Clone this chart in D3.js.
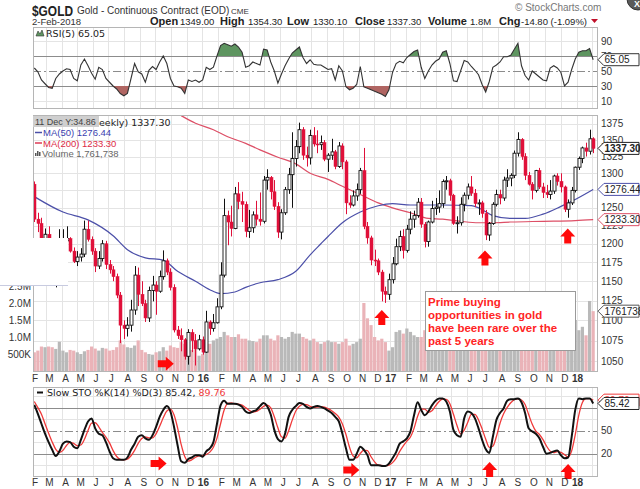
<!DOCTYPE html>
<html><head><meta charset="utf-8">
<script src="https://cdn.jsdelivr.net/npm/d3@7"></script>
<style>
body{margin:0;background:#fff}
svg{display:block}
text{font-family:"Liberation Sans",Arial,sans-serif}
.dv{font-family:"DejaVu Sans",Verdana,sans-serif}
</style>
</head><body><svg id="c" width="640" height="489"></svg>
<script>
// ---------- DATA (weekly, first week ending 2015-02-06) ----------
const firstWeek = "2015-02-06";
const opens = [1284,1234,1228,1205,1213,1167,1152,1184,1199,1204,1207,1190,1176,1182,1186,1220,1206,1190,1170,1180,
1200,1172,1165,1156,1132,1094,1090,1094,1113,1158,1133,1121,1103,1138,1145,1137,1156,1177,1162,1142,
1088,1081,1076,1056,1085,1075,1065,1076,1061,1098,1090,1097,1117,1158,1239,1230,1221,1270,1259,1255,
1217,1222,1240,1234,1231,1290,1294,1273,1252,1216,1243,1276,1298,1322,1340,1366,1327,1323,1357,1344,
1343,1346,1321,1327,1332,1310,1341,1317,1257,1254,1267,1276,1304,1224,1208,1178,1177,1162,1137,1133,
1152,1173,1196,1210,1191,1220,1234,1239,1258,1227,1203,1230,1249,1251,1256,1288,1289,1268,1228,1229,
1255,1268,1280,1271,1256,1257,1242,1212,1228,1255,1269,1264,1290,1293,1297,1330,1351,1325,1297,1284,
1275,1304,1280,1272,1269,1274,1296,1288,1280,1248,1257,1275,1309,1322,1338,1333,1352];
const highs = [1288,1243,1236,1221,1224,1175,1187,1220,1220,1224,1209,1195,1190,1194,1232,1232,1210,1194,1190,1205,
1204,1178,1170,1160,1136,1100,1104,1126,1170,1168,1150,1126,1143,1157,1150,1164,1191,1180,1167,1146,
1093,1090,1078,1089,1089,1083,1082,1080,1112,1100,1108,1128,1175,1263,1246,1253,1280,1287,1273,1259,
1247,1245,1260,1272,1296,1306,1296,1290,1258,1248,1280,1308,1362,1350,1377,1370,1340,1366,1370,1365,
1357,1350,1330,1352,1335,1347,1345,1320,1268,1275,1285,1308,1338,1230,1211,1192,1180,1165,1143,1160,
1182,1207,1218,1220,1226,1245,1246,1264,1264,1230,1232,1260,1264,1275,1291,1296,1292,1270,1238,1265,
1272,1285,1296,1277,1262,1260,1247,1230,1258,1276,1276,1295,1306,1300,1334,1362,1353,1330,1302,1287,
1305,1308,1286,1283,1290,1298,1300,1300,1282,1262,1280,1310,1325,1340,1346,1366,1354.3];
const lows = [1230,1216,1196,1197,1164,1150,1142,1182,1178,1192,1188,1174,1170,1176,1182,1203,1185,1162,1166,1176,
1166,1160,1150,1128,1072,1077,1080,1086,1107,1118,1118,1098,1098,1124,1107,1135,1152,1158,1138,1085,
1077,1062,1052,1046,1061,1045,1063,1058,1060,1082,1086,1096,1114,1155,1198,1210,1220,1248,1230,1209,
1208,1215,1225,1225,1228,1276,1262,1247,1208,1206,1240,1270,1250,1310,1330,1320,1310,1313,1340,1330,
1335,1318,1302,1320,1306,1308,1306,1241,1250,1252,1260,1270,1220,1200,1171,1170,1158,1124,1122,1126,
1147,1171,1190,1180,1188,1213,1222,1236,1222,1195,1196,1228,1240,1243,1250,1276,1260,1226,1214,1225,
1245,1262,1267,1251,1240,1236,1205,1204,1226,1252,1255,1260,1280,1281,1293,1325,1320,1290,1282,1262,
1272,1277,1264,1264,1262,1270,1282,1272,1244,1236,1254,1272,1305,1315,1325,1328,1330.1];
const closes = [1234,1228,1205,1213,1167,1152,1184,1199,1204,1207,1190,1176,1182,1186,1220,1206,1190,1170,1180,1200,
1172,1165,1156,1132,1094,1090,1094,1113,1158,1133,1121,1103,1138,1145,1137,1156,1177,1162,1142,1088,
1081,1076,1056,1085,1075,1065,1076,1061,1098,1090,1097,1117,1158,1239,1230,1221,1270,1259,1255,1217,
1222,1240,1234,1231,1290,1294,1273,1252,1216,1243,1276,1298,1322,1340,1366,1327,1323,1357,1344,1343,
1346,1321,1327,1332,1310,1341,1317,1257,1254,1267,1276,1304,1224,1208,1178,1177,1162,1137,1133,1152,
1173,1196,1210,1191,1220,1234,1239,1258,1227,1203,1230,1249,1251,1256,1288,1289,1268,1228,1229,1255,
1268,1280,1271,1256,1257,1242,1212,1228,1255,1269,1264,1290,1293,1297,1330,1351,1325,1297,1284,1275,
1304,1280,1272,1269,1274,1296,1288,1280,1248,1257,1275,1309,1322,1338,1333,1352,1337.3];
const volumes = [0.55,0.6,0.72,0.7,0.72,0.7,0.65,0.86,0.6,0.55,0.62,0.6,0.55,0.5,0.58,0.62,0.72,0.66,0.6,0.68,
0.66,0.6,0.62,0.7,0.9,0.78,0.7,0.68,0.75,0.9,0.62,0.55,0.5,0.48,0.55,0.58,0.7,0.6,0.75,0.7,
0.68,0.85,0.8,0.7,0.62,0.65,0.45,0.5,0.85,0.8,0.9,0.95,1.0,1.15,1.05,1.0,1.0,1.08,0.95,0.95,
0.9,0.88,0.85,0.95,1.05,1.05,0.95,0.9,1.05,1.0,0.95,1.0,1.15,1.1,1.1,1.0,0.95,0.9,0.95,0.85,
0.8,0.85,0.9,0.85,0.85,0.8,0.85,0.95,0.75,0.8,0.85,0.95,2.0,1.55,1.35,1.0,0.9,0.95,0.85,0.6,
0.7,1.15,1.2,1.1,1.25,1.15,1.05,1.0,1.0,1.2,0.95,0.9,0.85,0.95,1.0,0.9,0.85,1.0,0.9,0.95,
1.0,0.9,0.95,0.85,0.8,0.85,0.95,0.9,1.05,1.0,0.95,1.1,1.05,1.05,1.25,1.3,1.0,0.95,0.85,0.9,
0.85,0.9,0.8,0.85,0.9,0.85,0.8,0.75,0.9,0.85,1.4,1.5,1.2,1.3,1.05,2.06,1.76];
const rsi = [54,49,38,33,28,27,40,46,50,53,52,40,37,58,66,57,47,39,55,52,
40,35,30,26,20,17,20,40,60,49,46,35,51,56,52,62,70,60,40,30,
29,27,20,38,36,38,35,38,55,52,55,70,84,87,85,83,86,82,75,55,
57,62,60,58,79,78,62,50,34,46,57,66,74,78,82,68,60,65,59,58,
58,55,52,53,38,57,50,29,25,27,32,56,29,27,25,23,21,19,16,25,
48,60,63,61,68,72,76,78,55,40,50,58,63,66,75,77,60,37,36,50,
64,62,56,51,45,32,22,36,55,58,62,69,69,71,79,87,57,44,38,50,
46,42,38,37,54,57,54,48,30,35,52,66,75,77,77,80,65.05];
const stoK = [83.5,72,59,46,35,25,17,23,33,36,35,29,27,38,51,62,66,53,46,44,
35,23,14,12,12,12,15,25,33,42,44,40,38,44,55,68,77,82,75,55,
31,10,8,13,15,18,18,16,23,27,35,59,83,89,85,85,85,84,81,75,
73,75,77,82,86,82,71,51,39,36,46,68,77,82,86,85,81,79,81,82,
81,79,76,73,68,62,46,27,12,12,20,29,25,18,5,5,5,4,4,7,
14,22,33,36,40,49,70,87,77,70,75,83,89,92,92,88,75,51,44,42,
66,75,73,66,53,38,26,21,42,64,73,79,89,91,91,92,87,73,53,49,
46,40,29,20,21,23,24,18,14,15,42,77,92,91,92,92,85.42];
const stoD = [88,80,71.5,59,46.7,35.3,25.7,21.7,24.3,30.7,34.7,33.3,30.3,31.3,38.7,50.3,59.7,60.3,55,47.7,
41.7,34,24,16.3,12.7,12,13,17.3,24.3,33.3,39.7,42,40.7,40.7,45.7,55.7,66.7,75.7,78,70.7,
53.7,32,16.3,10.3,12,15.3,17,17.3,19,22,28.3,40.3,59,77,85.7,86.3,85,84.7,83.3,80,
76.3,74.3,75,78,81.7,83.3,79.7,68,53.7,42,40.3,50,63.7,75.7,81.7,84.3,84,81.7,80.3,80.7,
81.3,80.7,78.7,76,72.3,67.7,58.7,45,28.3,17,14.7,20.3,24.7,24,16,9.3,5,4.7,4.3,5,
8.3,14.3,23,30.3,36.3,41.7,53,68.7,78,78,74,76,82.3,88,91,90.7,85,71.3,56.7,45.7,
50.7,61,71.3,71.3,64,52.3,39,28.3,29.7,42.3,59.7,72,80.3,86.3,90.3,91.3,90,84,71,58.3,
49.3,45,38.3,29.7,23.3,21.3,22.7,21.7,18.7,15.7,23.7,44.7,70.3,86.7,91.7,91.7,89.76];
// moving averages (week index, value)
const ma50Week = [0,8,15,22,26,31,36,40,45,49,52,56,59,63,68,73,77,80,82,86,91,96,100,105,114,122,124,128,133,137,142,147,151,156];
const ma50Val  = [1266,1244,1233,1211,1192,1181,1178,1163,1150,1139,1134,1136,1142,1148,1152,1163,1185,1200,1210,1229,1244,1253,1256,1254,1254,1253,1250,1239,1235,1235,1241,1252,1262,1276.44];
const ma200Week = [41,45,50,54,59,63,68,73,77,82,86,91,96,100,105,110,114,119,124,128,133,142,151,156];
const ma200Val  = [1388,1376,1366,1355,1345,1335,1324,1314,1300,1291,1281,1269,1257,1250,1243,1235,1234,1231,1229,1229,1230,1231,1232,1233.3];
// tick labels
const priceTicks = [1050,1075,1100,1125,1150,1175,1200,1225,1250,1300,1325,1350,1375];
const volTicks = [0.5,1.0,1.5,2.0,2.5];
const volTickLabels = ["500K","1.0M","1.5M","2.0M","2.5M"];
const rsiTicks = [10,30,50,70,90];
const stoTicks = [20,50];
// red arrow annotations (week index, value, direction)
const mainArrowWeek = [36.7,97.0,125.8,148.9];
const mainArrowVal  = [1047,1113,1191,1221];
const mainArrowDir  = ["right","up","up","up"];
const stoArrowWeek = [34.7,88.5,127.1,149.0];
const stoArrowVal  = [7.2,-1.3,9.1,6.5];
const stoArrowDir  = ["right","right","up","up"];
const noteLines = ["Prime buying","opportunities in gold","have been rare over the","past 5 years"];

// ---------- SETUP ----------
const svg = d3.select("#c");
svg.append("rect").attr("width",640).attr("height",489).attr("fill","#fff");
const X0 = 33, X1 = 597;
const P = {rsi:[27,108], main:[115,371], sto:[387,476]};
const x = d3.scaleTime().domain([new Date(2015,1,4), new Date(2018,1,10)]).range([X0,X1]);
const start = new Date(firstWeek+"T12:00:00");
const wd = i => new Date(start.getTime() + i*7*864e5);
const dates = closes.map((c,i)=>wd(i));
const yP = d3.scaleLog().domain([1038.5,1389]).range([371,115]);
const yV = d3.scaleLinear().domain([0,7.53]).range([371,115]);
const yR = d3.scaleLinear().domain([0,100]).range([108.5,33.5]);
const yS = d3.scaleLinear().domain([0,100]).range([469,392.3]);
const months = d3.timeMonth.range(new Date(2015,1,1), new Date(2018,2,1));
const defs = svg.append("defs");
function clip(id,y0,y1){defs.append("clipPath").attr("id",id).append("rect").attr("x",X0).attr("y",y0).attr("width",X1-X0).attr("height",y1-y0);}
clip("cm",P.main[0],P.main[1]); clip("cr",P.rsi[0],P.rsi[1]); clip("cs",P.sto[0],P.sto[1]);

function panelGrid(p, yvals, yScale){
  const g = svg.append("g");
  g.selectAll(".v").data(months.filter(m=>x(m)>X0&&x(m)<X1)).join("line")
    .attr("x1",d=>Math.round(x(d))+0.5).attr("x2",d=>Math.round(x(d))+0.5)
    .attr("y1",p[0]).attr("y2",p[1]).attr("stroke","#e4e4e4");
  g.selectAll(".h").data(yvals).join("line")
    .attr("x1",X0).attr("x2",X1).attr("y1",d=>Math.round(yScale(d))+0.5).attr("y2",d=>Math.round(yScale(d))+0.5)
    .attr("stroke","#e4e4e4");
  return g;
}
function border(p){svg.append("rect").attr("x",X0+0.5).attr("y",p[0]+0.5).attr("width",X1-X0).attr("height",p[1]-p[0]).attr("fill","none").attr("stroke","#b5b5b5");}

// ---------- HEADER ----------
svg.append("text").attr("x",32).attr("y",16).attr("font-size",14).attr("font-weight","bold").attr("fill","#222")
  .attr("textLength",41).attr("lengthAdjust","spacingAndGlyphs").text("$GOLD");
svg.append("text").attr("x",77).attr("y",14).attr("font-size",10).attr("fill","#333").text("Gold - Continuous Contract (EOD)");
svg.append("text").attr("x",231).attr("y",14).attr("font-size",8).attr("fill","#333").text("CME");
svg.append("text").attr("x",515).attr("y",11).attr("font-size",10).attr("fill","#777").text("© StockCharts.com");
svg.append("text").attr("x",32).attr("y",25).attr("font-size",9.5).attr("fill","#333").text("2-Feb-2018");
const hdr = [["Open",150,true],["1349.00",180,false],["High",220,true],["1354.30",248,false],["Low",287,true],["1330.10",313,false],
 ["Close",355,true],["1337.30",387,false],["Volume",428,true],["1.8M",470,false],["Chg",499,true],["-14.80 (-1.09%)",521,false]];
hdr.forEach(h=>svg.append("text").attr("x",h[1]).attr("y",25).attr("font-size",h[2]?11:9.5).attr("font-weight",h[2]?"bold":"normal").attr("fill","#222").text(h[0]));
svg.append("path").attr("d","M591,19 L598,19 L594.5,23 Z").attr("fill","#c0102a");
svg.append("circle").attr("cx",638).attr("cy",-1).attr("r",11).attr("fill","#5a5a5a").attr("stroke","#333");
svg.append("text").attr("x",634).attr("y",7).attr("font-size",9).attr("fill","#fff").attr("font-weight","bold").text("X");

// ---------- RSI PANEL ----------
panelGrid(P.rsi,[10,90],yR);
[30,70].forEach(v=>svg.append("line").attr("x1",X0).attr("x2",X1).attr("y1",Math.round(yR(v))+0.5).attr("y2",Math.round(yR(v))+0.5).attr("stroke","#8c8c8c").attr("stroke-width",1));
svg.append("line").attr("x1",X0).attr("x2",X1).attr("y1",Math.round(yR(50))+0.5).attr("y2",Math.round(yR(50))+0.5).attr("stroke","#8c8c8c").attr("stroke-dasharray","8,3,2,3");
defs.append("clipPath").attr("id","rTop").append("rect").attr("x",X0).attr("y",P.rsi[0]).attr("width",X1-X0).attr("height",yR(70)-P.rsi[0]);
defs.append("clipPath").attr("id","rBot").append("rect").attr("x",X0).attr("y",yR(30)).attr("width",X1-X0).attr("height",P.rsi[1]-yR(30));
const rA70 = d3.area().x((d,i)=>x(dates[i])).y0(yR(70)).y1(d=>yR(d));
const rA30 = d3.area().x((d,i)=>x(dates[i])).y0(yR(30)).y1(d=>yR(d));
svg.append("path").attr("d",rA70(rsi)).attr("fill","#5e9560").attr("clip-path","url(#rTop)");
svg.append("path").attr("d",rA30(rsi)).attr("fill","#b06562").attr("clip-path","url(#rBot)");
svg.append("path").attr("d",d3.line().x((d,i)=>x(dates[i])).y(d=>yR(d))(rsi)).attr("fill","none").attr("stroke","#333").attr("stroke-width",1.1).attr("clip-path","url(#cr)");
border(P.rsi);
svg.selectAll(".rt").data(rsiTicks).join("text").attr("x",601).attr("y",d=>yR(d)+3.5).attr("font-size",10).attr("fill","#333").text(d=>d);
// RSI legend
svg.append("path").attr("d","M36,36 L38,31 L40,34 L42,30 L44,36 Z").attr("fill","#5e9560").attr("stroke","#333").attr("stroke-width",0.6);
svg.append("text").attr("class","dv").attr("x",46).attr("y",37).attr("font-size",9.5).attr("fill","#222").text("RSI(5) 65.05");

function tag(y, txt, stroke, bold, color){
  const g = svg.append("g");
  g.append("path").attr("d",`M598,${y} L604,${y-6} L639,${y-6} L639,${y+6} L604,${y+6} Z`).attr("fill","#fff").attr("stroke",stroke).attr("stroke-width",1);
  g.append("text").attr("x",604.5).attr("y",y+3.5).attr("font-size",10).attr("font-weight",bold?"bold":"normal").attr("fill",color||"#222").text(txt);
}
tag(yR(rsi[rsi.length-1]),"65.05","#333",false);

// ---------- MAIN PANEL ----------
panelGrid(P.main,[1050,1075,1100,1125,1150,1175,1200,1225,1250,1275,1300,1325,1350,1375],yP);
const mg = svg.append("g").attr("clip-path","url(#cm)");
// volume bars
mg.selectAll(".vb").data(volumes).join("rect")
  .attr("x",(d,i)=>x(dates[i])-1.6).attr("width",3.2)
  .attr("y",d=>yV(d)).attr("height",d=>yV(0)-yV(d))
  .attr("fill",(d,i)=> (i>0 && closes[i]<closes[i-1]) || (i===0) ? "#eab3b8" : "#b9b9b9");
// MAs
mg.append("path").attr("d",d3.line().curve(d3.curveMonotoneX).x((d,i)=>x(wd(ma200Week[i]))).y(d=>yP(d))(ma200Val)).attr("fill","none").attr("stroke","#dd4f66").attr("stroke-width",1.2);
mg.append("path").attr("d",d3.line().curve(d3.curveMonotoneX).x((d,i)=>x(wd(ma50Week[i]))).y(d=>yP(d))(ma50Val)).attr("fill","none").attr("stroke","#4b4fa8").attr("stroke-width",1.2);
// candles
const cg = mg.append("g");
closes.forEach((c,i)=>{
  const o=opens[i], h=highs[i], l=lows[i], cx=Math.round(x(dates[i]))+0.5;
  const up = i===0 ? false : c>=closes[i-1];
  const col = up ? "#111" : "#e0103a";
  cg.append("line").attr("x1",cx).attr("x2",cx).attr("y1",yP(h)).attr("y2",yP(l)).attr("stroke",col).attr("stroke-width",1);
  const top=yP(Math.max(o,c)), bot=yP(Math.min(o,c));
  const hollow = c>=o;
  cg.append("rect").attr("x",cx-1.5).attr("width",3).attr("y",top).attr("height",Math.max(1,bot-top))
    .attr("fill",hollow?"#fff":col).attr("stroke",col).attr("stroke-width",hollow?0.9:0.5);
});
border(P.main);
svg.selectAll(".pt").data(priceTicks).join("text").attr("x",601).attr("y",d=>yP(d)+3.5).attr("font-size",10).attr("fill","#333").text(d=>d);
svg.selectAll(".vt").data(volTicks).join("text").attr("x",31).attr("y",d=>yV(d)+3.5).attr("text-anchor","end").attr("font-size",10).attr("fill","#333").text((d,i)=>volTickLabels[i]);
// white overlay box at left (as in reference)
svg.append("rect").attr("x",0).attr("y",238).attr("width",68).attr("height",48).attr("fill","#fff");
svg.append("line").attr("x1",0).attr("x2",68).attr("y1",285.5).attr("y2",285.5).attr("stroke","#c8cbe0");
// legend
svg.append("rect").attr("x",33).attr("y",116).attr("width",66).attr("height",11).attr("fill","#cfcfcf");
svg.append("text").attr("x",35).attr("y",125).attr("font-size",9).attr("fill","#444").text("11 Dec Y:34.86");
svg.append("text").attr("class","dv").attr("x",99).attr("y",126).attr("font-size",9.5).attr("fill","#222").text("eekly) 1337.30");
svg.append("line").attr("x1",35).attr("x2",42).attr("y1",132.5).attr("y2",132.5).attr("stroke","#4b4fa8").attr("stroke-width",1.5);
svg.append("text").attr("x",43).attr("y",136).attr("font-size",9.5).attr("fill","#3b3fb0").text("MA(50) 1276.44");
svg.append("line").attr("x1",35).attr("x2",42).attr("y1",143).attr("y2",143).attr("stroke","#dd3a55").attr("stroke-width",1.5);
svg.append("text").attr("x",43).attr("y",146.5).attr("font-size",9.5).attr("fill","#dd2a45").text("MA(200) 1233.30");
[[35,3],[37,5],[39,4]].forEach(b=>svg.append("rect").attr("x",b[0]).attr("y",156-b[1]).attr("width",1.5).attr("height",b[1]).attr("fill","#555"));
svg.append("text").attr("x",42).attr("y",156.5).attr("font-size",9.5).attr("fill","#666").text("Volume 1,761,738");
// tags
tag(yV(volumes[volumes.length-1]),"1761738","#555",false);
tag(yP(ma200Val[ma200Val.length-1]),"1233.30","#dd4f66",false);
tag(yP(ma50Val[ma50Val.length-1]),"1276.44","#4b4fa8",false);
tag(yP(closes[closes.length-1]),"1337.30","#222",true);

// month axis labels
function monthAxis(yb){
  const g = svg.append("g");
  months.forEach(m=>{
    const px = x(m);
    if(px < X0-3 || px > X1-12) return;
    const yr = m.getMonth()===0;
    const t = yr ? d3.timeFormat("%y")(m) : d3.timeFormat("%b")(m)[0];
    g.append("text").attr("x",yr?px+1:px+(t==="M"?-0.5:0.5)).attr("y",yb).attr("text-anchor",yr?"middle":"start")
      .attr("font-size",10).attr("font-weight",yr?"bold":"normal").attr("fill","#333").text(t);
  });
}
monthAxis(382);

// arrows
function arrow(cx, cy, dir){
  let pts;
  if(dir==="up") pts=[[cx,cy],[cx+7.5,cy+8],[cx+3.5,cy+8],[cx+3.5,cy+15],[cx-3.5,cy+15],[cx-3.5,cy+8],[cx-7.5,cy+8]];
  else pts=[[cx+8,cy],[cx,cy-7],[cx,cy-3.5],[cx-8,cy-3.5],[cx-8,cy+3.5],[cx,cy+3.5],[cx,cy+7]];
  svg.append("polygon").attr("points",pts.map(p=>p.join(",")).join(" ")).attr("fill","#ff0a0a");
}
mainArrowWeek.forEach((w,i)=>arrow(x(wd(w)), yP(mainArrowVal[i]), mainArrowDir[i]));

// annotation
svg.append("rect").attr("x",425.5).attr("y",291.5).attr("width",150).attr("height",59).attr("fill","#fff").attr("stroke","#9a9a9a");
noteLines.forEach((t,i)=>svg.append("text").attr("x",428).attr("y",306+i*13).attr("font-size",11.5).attr("font-weight","bold").attr("fill","#ff2424").text(t));

// ---------- STOCHASTIC PANEL ----------
panelGrid(P.sto,[5,35,65,95],yS);
[20,80].forEach(v=>svg.append("line").attr("x1",X0).attr("x2",X1).attr("y1",Math.round(yS(v))+0.5).attr("y2",Math.round(yS(v))+0.5).attr("stroke","#8c8c8c"));
svg.append("line").attr("x1",X0).attr("x2",X1).attr("y1",Math.round(yS(50))+0.5).attr("y2",Math.round(yS(50))+0.5).attr("stroke","#8c8c8c").attr("stroke-dasharray","8,3,2,3");
const sg = svg.append("g").attr("clip-path","url(#cs)");
sg.append("path").attr("d",d3.line().curve(d3.curveMonotoneX).x((d,i)=>x(dates[i])).y(d=>yS(d))(stoD)).attr("fill","none").attr("stroke","#f03a3a").attr("stroke-width",1.3);
sg.append("path").attr("d",d3.line().curve(d3.curveMonotoneX).x((d,i)=>x(dates[i])).y(d=>yS(d))(stoK)).attr("fill","none").attr("stroke","#111").attr("stroke-width",2);
border(P.sto);
svg.selectAll(".st").data(stoTicks).join("text").attr("x",601).attr("y",d=>yS(d)+3.5).attr("font-size",10).attr("fill","#333").text(d=>d);
svg.append("line").attr("x1",37).attr("x2",43).attr("y1",392.5).attr("y2",392.5).attr("stroke","#111").attr("stroke-width",2);
const sl = svg.append("text").attr("class","dv").attr("x",47).attr("y",396).attr("font-size",9.5).attr("fill","#222");
sl.append("tspan").text("Slow STO %K(14) %D(3) 85.42, ");
sl.append("tspan").attr("fill","#f03a3a").text("89.76");
tag(yS(stoD[stoD.length-1]),"89.76","#f03a3a",false,"#f03a3a");
tag(yS(stoK[stoK.length-1]),"85.42","#222",false);
stoArrowWeek.forEach((w,i)=>arrow(x(wd(w)), yS(stoArrowVal[i]), stoArrowDir[i]));
monthAxis(486);
</script></body></html>
